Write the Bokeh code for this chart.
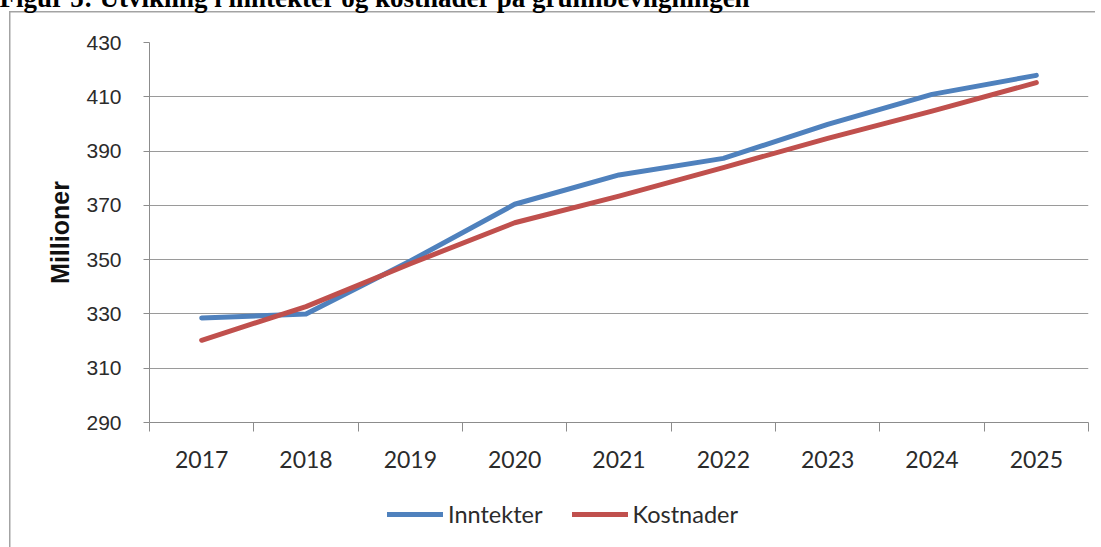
from bokeh.plotting import figure
from bokeh.layouts import column
from bokeh.models import FixedTicker, Legend, LegendItem, Range1d
from bokeh.embed import file_html
from bokeh.resources import INLINE

# ---- data ----
years = ["2017", "2018", "2019", "2020", "2021", "2022", "2023", "2024", "2025"]
inntekter = [328.5, 330.0, 349.5, 370.4, 381.2, 387.3, 399.8, 410.9, 417.9]
kostnader = [320.3, 332.7, 348.5, 363.6, 373.4, 383.9, 394.7, 404.7, 415.2]
y_ticks = [290, 310, 330, 350, 370, 390, 410, 430]
series_names = ["Inntekter", "Kostnader"]
y_title = "Millioner"
fig_title = "Figur 5: Utvikling i inntekter og kostnader på grunnbevilgningen"

x_pos = list(range(len(years)))
boundaries = [i - 0.5 for i in range(len(years) + 1)]
colors = ["#4f81bd", "#c0504d"]

TOP = -72  # page is shifted up so that the caption is cut off like in the reference
border_col = "#a3a3a3"

# ---------------- main chart ----------------
p = figure(frame_width=939, frame_height=380, output_backend="svg", toolbar_location=None,
           x_range=Range1d(-0.5, len(years) - 0.5), y_range=Range1d(y_ticks[0], y_ticks[-1]),
           min_border_left=149, min_border_right=7, min_border_top=114, min_border_bottom=70)
p.outline_line_color = None
p.background_fill_color = "white"
p.border_fill_alpha = 0

p.title.text = fig_title
p.title.align = "left"
p.title.offset = -150
p.title.vertical_align = "top"
p.title.standoff = 56
p.title.text_font = "Liberation Serif"
p.title.text_font_style = "bold"
p.title.text_font_size = "27px"
p.title.text_color = "black"

grey_axis = "#8c8c8c"
txt_col = "#2b2b2b"
xa = p.xaxis[0]
xa.ticker = FixedTicker(ticks=x_pos, minor_ticks=boundaries)
xa.major_label_overrides = {i: y for i, y in enumerate(years)}
xa.major_tick_out = 0
xa.major_tick_in = 0
xa.minor_tick_out = 9
xa.minor_tick_in = 0
xa.minor_tick_line_color = grey_axis
xa.axis_line_color = grey_axis
xa.major_label_text_font = "Lato"
xa.major_label_text_font_size = "23px"
xa.major_label_text_color = txt_col
xa.major_label_standoff = 19

ya = p.yaxis[0]
ya.ticker = FixedTicker(ticks=y_ticks, minor_ticks=[])
ya.major_tick_out = 6
ya.major_tick_in = 0
ya.major_tick_line_color = grey_axis
ya.axis_line_color = grey_axis
ya.major_label_text_font = "Liberation Sans"
ya.major_label_text_font_size = "21px"
ya.major_label_text_color = txt_col
ya.major_label_standoff = 22
ya.axis_label = y_title
ya.axis_label_text_font = "Liberation Sans"
ya.axis_label_text_font_style = "bold"
ya.axis_label_text_font_size = "25px"
ya.axis_label_text_color = "#111111"
ya.axis_label_standoff = 9

p.xgrid.grid_line_color = None
p.ygrid.grid_line_color = "#9a9a9a"
p.ygrid.grid_line_width = 1.2

p.line(x_pos, inntekter, line_color=colors[0], line_width=5, line_cap="round", line_join="round")
p.line(x_pos, kostnader, line_color=colors[1], line_width=5, line_cap="round", line_join="round")

# ---------------- legend strip below the chart ----------------
lg = figure(frame_width=1095, frame_height=55, output_backend="svg", toolbar_location=None,
            x_range=Range1d(-0.5, len(years) - 0.5), y_range=Range1d(0, 1),
            x_axis_location=None, y_axis_location=None, min_border=0)
lg.outline_line_color = None
lg.background_fill_alpha = 0
lg.border_fill_alpha = 0
lg.xgrid.visible = False
lg.ygrid.visible = False
# same series drawn outside this strip's y-range: only their legend samples show
q1 = lg.line(x_pos, inntekter, line_color=colors[0], line_width=5, line_cap="round")
q2 = lg.line(x_pos, kostnader, line_color=colors[1], line_width=5, line_cap="round")
legend = Legend(items=[LegendItem(label=series_names[0], renderers=[q1]),
                       LegendItem(label=series_names[1], renderers=[q2])],
                orientation="horizontal", location=(387, 19),
                glyph_width=56, glyph_height=28, label_height=28,
                label_standoff=5, spacing=29, padding=0, margin=0,
                border_line_color=None, background_fill_alpha=0,
                label_text_font="Lato", label_text_font_size="23.5px", label_text_color=txt_col)
lg.add_layout(legend, "center")

layout = column(p, lg, spacing=0, styles={
    "position": "relative", "top": f"{TOP}px",
    "background-image": f"linear-gradient({border_col},{border_col}), linear-gradient({border_col},{border_col})",
    "background-size": "1.5px 100%, 100% 1.5px",
    "background-position": f"9px {11 - TOP}px, 9px {11 - TOP}px",
    "background-repeat": "no-repeat",
})

open("out.html", "w").write(file_html(layout, INLINE))
